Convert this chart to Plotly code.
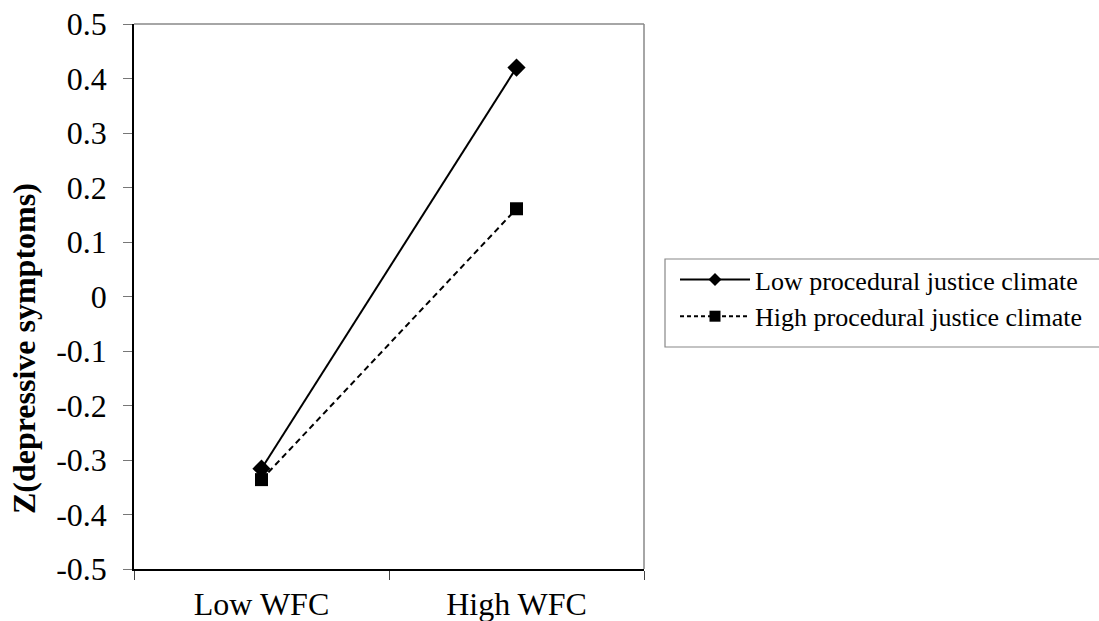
import plotly.graph_objects as go

categories = ["Low WFC", "High WFC"]
low_pjc = [-0.316, 0.420]
high_pjc = [-0.336, 0.161]
series_names = ["Low procedural justice climate", "High procedural justice climate"]
y_tick_vals = [0.5, 0.4, 0.3, 0.2, 0.1, 0, -0.1, -0.2, -0.3, -0.4, -0.5]
y_tick_text = ["0.5", "0.4", "0.3", "0.2", "0.1", "0", "-0.1", "-0.2", "-0.3", "-0.4", "-0.5"]
y_title = "Z(depressive symptoms)"

FONT = "Liberation Serif, Times New Roman, serif"
xpos = list(range(len(categories)))

fig = go.Figure()
# plotted series
fig.add_trace(go.Scatter(
    x=xpos, y=low_pjc, name=series_names[0], mode="lines+markers",
    line=dict(color="black", width=2),
    marker=dict(symbol="diamond", size=14, color="black"),
    showlegend=False,
))
fig.add_trace(go.Scatter(
    x=xpos, y=high_pjc, name=series_names[1], mode="lines+markers",
    line=dict(color="black", width=2, dash="6px,4px"),
    marker=dict(symbol="square", size=13, color="black"),
    showlegend=False,
))
# legend entries (smaller legend symbols, as in the reference)
fig.add_trace(go.Scatter(
    x=[None], y=[None], name=series_names[0], mode="lines+markers",
    line=dict(color="black", width=2),
    marker=dict(symbol="diamond", size=10, color="black"),
))
fig.add_trace(go.Scatter(
    x=[None], y=[None], name=series_names[1], mode="lines+markers",
    line=dict(color="black", width=2, dash="4px,3px"),
    marker=dict(symbol="square", size=11, color="black"),
))

fig.update_layout(
    width=1099, height=621,
    margin=dict(l=134, r=455, t=24, b=52, autoexpand=False),
    paper_bgcolor="white", plot_bgcolor="white",
    font=dict(family=FONT, size=31, color="black"),
    showlegend=True,
    legend=dict(
        x=(675 - 134) / 510, y=(569 - 256) / 545, xanchor="left", yanchor="top",
        borderwidth=0, bgcolor="rgba(0,0,0,0)",
        font=dict(family=FONT, size=26, color="black"),
        itemwidth=70, tracegroupgap=0,
    ),
    xaxis=dict(
        range=[-0.5, 1.5], tickvals=xpos, ticktext=categories,
        ticks="", showgrid=False, zeroline=False, automargin=False,
        showline=True, linecolor="black", linewidth=1.5,
        tickfont=dict(family=FONT, size=32),
        ticklabelstandoff=6,
        minor=dict(tick0=-0.5, dtick=1, ticks="outside", ticklen=9,
                   tickcolor="#444444", tickwidth=1, showgrid=False),
        fixedrange=True,
    ),
    yaxis=dict(
        range=[-0.5, 0.5], tickvals=y_tick_vals, ticktext=y_tick_text,
        ticks="outside", ticklen=9, tickcolor="#777777", tickwidth=1,
        showgrid=False, zeroline=False, automargin=False,
        showline=True, linecolor="black", linewidth=1.5,
        tickfont=dict(family=FONT, size=32),
        ticklabelstandoff=10,
        fixedrange=True,
    ),
    annotations=[dict(
        text="<b>" + y_title + "</b>", textangle=-90,
        xref="paper", yref="paper", x=-0.216, y=0.405,
        xanchor="center", yanchor="middle", showarrow=False,
        font=dict(family=FONT, size=32, color="black"),
    )],
    shapes=[
        dict(type="line", xref="paper", yref="paper", x0=0, x1=1, y0=1, y1=1,
             line=dict(color="#888888", width=1.5)),
        dict(type="line", xref="paper", yref="paper", x0=1, x1=1, y0=0, y1=1,
             line=dict(color="#888888", width=1.5)),
        dict(type="path", xref="paper", yref="paper",
             path="M {x1},{y0} L {x0},{y0} L {x0},{y1} L {x1},{y1}".format(
                 x0=(665 - 134) / 510, x1=(1140 - 134) / 510,
                 y0=(569 - 347) / 545, y1=(569 - 259) / 545),
             line=dict(color="#888888", width=1.2)),
    ],
)

fig.write_html(
    "out.html",
    config={"displayModeBar": False},
    post_script="document.body.style.margin='0';document.body.style.overflow='hidden';",
)
